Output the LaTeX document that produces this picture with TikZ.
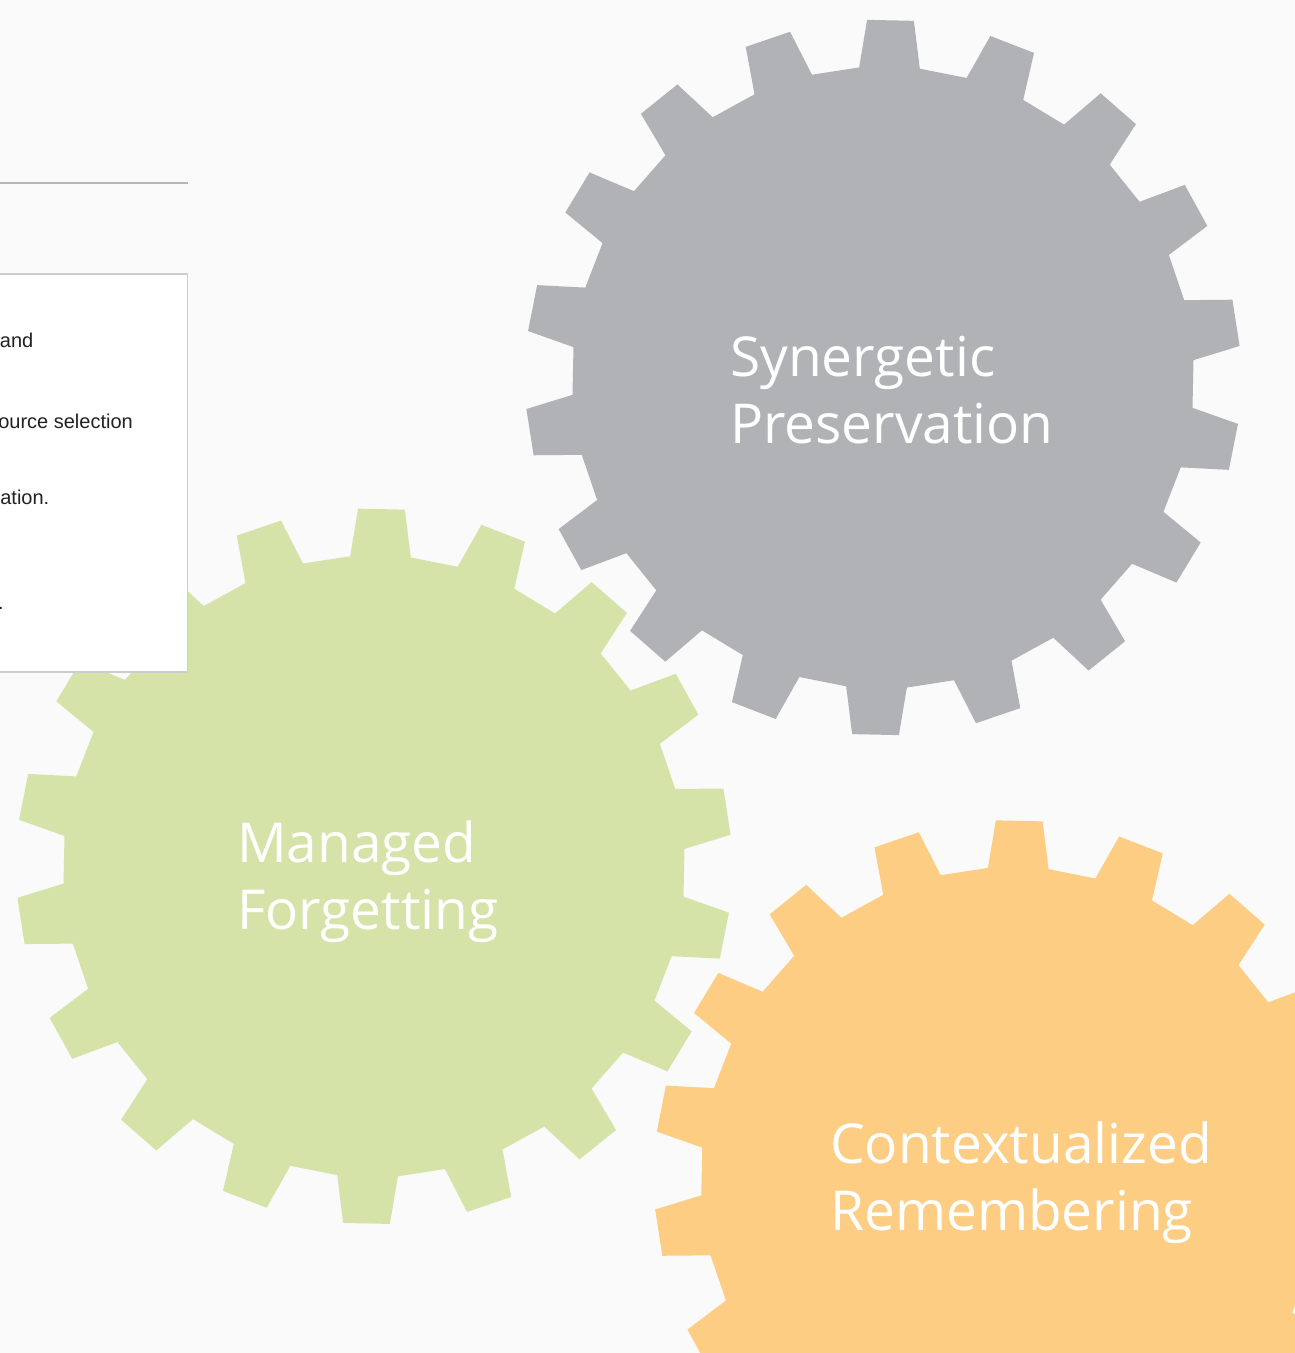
\documentclass[tikz,border=0pt]{standalone}
\usepackage{fontspec}
\setmainfont{Open Sans}
\newfontfamily\panelfont{Liberation Sans}
\usetikzlibrary{positioning}
\definecolor{cogGray}{RGB}{177,178,182}
\definecolor{cogGreen}{RGB}{213,227,168}
\definecolor{cogOrange}{RGB}{252,205,130}
\definecolor{pageBg}{RGB}{250,250,250}
\definecolor{panelLine}{RGB}{205,205,205}
\definecolor{ruleLine}{RGB}{182,182,182}
\definecolor{panelInk}{RGB}{34,34,34}

\begin{document}
\begin{tikzpicture}[x=1pt, y=1pt]
\tikzstyle{cog label}=[text=white, align=left, anchor=base west, inner sep=0pt, font=\fontsize{55}{67}\selectfont]
\tikzstyle{panel text}=[anchor=base east, inner sep=0pt, text=panelInk, font=\panelfont\fontsize{20}{24}\selectfont]
\tikzstyle{panel}=[fill=white, draw=panelLine, line width=1.2pt]

\useasboundingbox (0,0) rectangle (1295,1353);
\fill[pageBg] (0,0) rectangle (1295,1353);

% centres of the cogs
\coordinate (gray) at (883,975.5);
\coordinate (green) at (374,486.7);
\coordinate (orange) at (1011.75,175);

\foreach \c/\col in {gray/cogGray, green/cogGreen, orange/cogOrange}{
  \fill[\col, shift={(\c)}] (3.2:311)
    \foreach \k in {0,...,17}{
      -- (\k*20+3.2:311) -- (\k*20+5.05:358) -- (\k*20+12.55:358) -- (\k*20+14.4:311)
    } -- cycle;
}

% side panel
\coordinate (rule a) at (0,1170);
\coordinate (rule b) at (188,1170);
\draw[ruleLine, line width=2pt] (rule a) -- (rule b);
\coordinate (panel sw) at (-5,681);
\coordinate (panel ne) at (187.5,1079);
\draw[panel] (panel sw) rectangle (panel ne);
\node[panel text] (row1) at (33.5,1005) {and};
\node[panel text] (row2) at (133,924) {ource selection};
\node[panel text] (row3) at (49.5,848) {ation.};
\node[panel text] (row4) at (4,743) {r.};

% base anchor sits on the second line
\node[cog label] (synergetic) at (730,909) {Synergetic\\Preservation};
\node[cog label] (managed) at (237,423) {Managed\\Forgetting};
\node[cog label] (contextual) at (830,122) {Contextualized\\Remembering};
\end{tikzpicture}
\end{document}
